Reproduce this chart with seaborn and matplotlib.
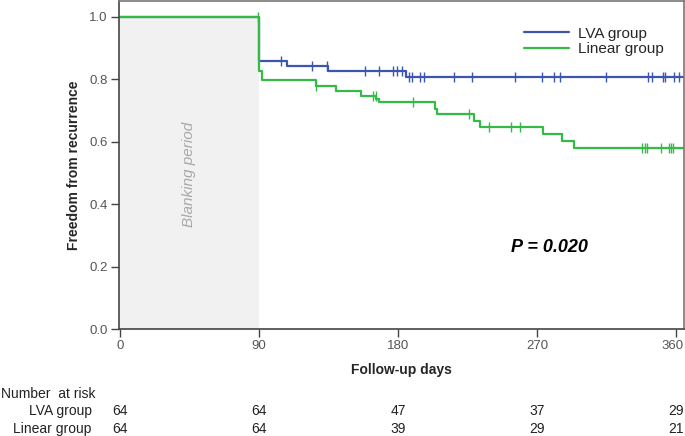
import numpy as np
import pandas as pd
import matplotlib
matplotlib.use("Agg")
import matplotlib.pyplot as plt
import matplotlib.transforms as mtransforms
import seaborn as sns

# Kaplan-Meier steg
lva_time = [0, 90, 108, 135, 185, 365]
lva_surv = [1.0, 0.858, 0.842, 0.826, 0.809, 0.809]
lva_censor = [104, 124.5, 134, 158.6, 168, 176.5, 179.5, 182.5, 187, 189, 194, 197,
              216, 228, 256, 273, 281, 285, 315, 342, 344.7, 351.7, 352.8, 358.6, 362]

lin_time = [0, 90, 92, 127, 140, 156, 166, 168, 204, 205, 229, 233, 274, 286, 294, 365]
lin_surv = [1.0, 0.827, 0.797, 0.778, 0.762, 0.745, 0.737, 0.727, 0.705, 0.688,
            0.667, 0.646, 0.625, 0.604, 0.580, 0.580]
lin_censor = [89.5, 127, 164, 165.5, 190, 226, 239, 253, 259, 338, 340, 341.5,
              350, 355.5, 357, 358]

risk_days = [0, 90, 180, 270, 360]
risk_lva = [64, 64, 47, 37, 29]
risk_lin = [64, 64, 39, 29, 21]

blue = '#3c55b0'
green = '#33bb45'


def step_value(times, surv, t):
    i = np.searchsorted(times, t, side='right') - 1
    return surv[i]


sns.set_style('white')
plt.rcParams['font.family'] = ['Liberation Sans', 'DejaVu Sans']

fig = plt.figure(figsize=(6.85, 4.36), dpi=100)
ax = fig.add_axes([119 / 685, 107 / 436, 565 / 685, 328 / 436])

# Blanking period
ax.fill_between([0, 90], 0, 1.0, color='#f1f1f1', linewidth=0)
ax.text(45, 0.494, 'Blanking period', rotation=90, ha='center', va='center',
        style='italic', color='#a8a8a8', fontsize=11)

df_lva = pd.DataFrame({'dag': lva_time, 'överlevnad': lva_surv})
df_lin = pd.DataFrame({'dag': lin_time, 'överlevnad': lin_surv})

sns.lineplot(data=df_lva, x='dag', y='överlevnad', drawstyle='steps-post', color=blue,
             linewidth=1.6, estimator=None, sort=False, ax=ax, label='LVA group')
sns.lineplot(data=df_lin, x='dag', y='överlevnad', drawstyle='steps-post', color=green,
             linewidth=1.6, estimator=None, sort=False, ax=ax, label='Linear group')

cen_lva = pd.DataFrame({'dag': lva_censor,
                        'överlevnad': [step_value(lva_time, lva_surv, t) for t in lva_censor]})
cen_lin = pd.DataFrame({'dag': lin_censor,
                        'överlevnad': [step_value(lin_time, lin_surv, t) for t in lin_censor]})
ax.plot(cen_lva['dag'], cen_lva['överlevnad'], linestyle='none', marker='|',
        markersize=7, markeredgewidth=1.0, color=blue)
ax.plot(cen_lin['dag'], cen_lin['överlevnad'], linestyle='none', marker='|',
        markersize=7, markeredgewidth=1.0, color=green)

ax.set_xlim(-0.6, 365.2)
ax.set_ylim(0, 1.051)
ax.set_xticks(risk_days)
ax.set_yticks([0.0, 0.2, 0.4, 0.6, 0.8, 1.0])
ax.set_yticklabels(['0.0', '0.2', '0.4', '0.6', '0.8', '1.0'])
ax.tick_params(axis='both', direction='out', length=6, width=1, color='#444444',
               labelsize=9.5, labelcolor='#555555', pad=2, left=True, bottom=True)
# sista etiketten lite åt vänster så den inte klipps
last = ax.get_xticklabels()[-1]
last.set_transform(last.get_transform() + mtransforms.ScaledTranslation(-3 / 100, 0, fig.dpi_scale_trans))
for s in ax.spines.values():
    s.set_color('#777777')
    s.set_linewidth(1.2)
ax.spines['left'].set_color('#444444')
ax.spines['bottom'].set_color('#444444')

ax.set_xlabel('Follow-up days', fontweight='bold', fontsize=10, labelpad=8)
ax.set_ylabel('Freedom from recurrence', fontweight='bold', fontsize=10, labelpad=6)

ax.text(278, 0.26, 'P = 0.020', ha='center', va='center', fontsize=13,
        fontweight='bold', style='italic', color='black')

leg = ax.legend(loc='upper right', bbox_to_anchor=(0.988, 0.964), frameon=False,
                fontsize=11, handlelength=2.95, handletextpad=0.55, labelspacing=0.1)

# Number at risk
trans = mtransforms.blended_transform_factory(ax.transData, fig.transFigure)
fig.text(0.002, 0.0966, 'Number  at risk', ha='left', va='center', fontsize=10, color='#222222')
fig.text(0.134, 0.0576, 'LVA group', ha='right', va='center', fontsize=10, color='#222222')
fig.text(0.134, 0.0163, 'Linear group', ha='right', va='center', fontsize=10, color='#222222')
for d, a, b in zip(risk_days, risk_lva, risk_lin):
    ax.text(d, 0.0576, str(a), transform=trans, ha='center', va='center', fontsize=10,
            color='#222222', clip_on=False)
    ax.text(d, 0.0163, str(b), transform=trans, ha='center', va='center', fontsize=10,
            color='#222222', clip_on=False)

fig.savefig('out.png', dpi=100)
